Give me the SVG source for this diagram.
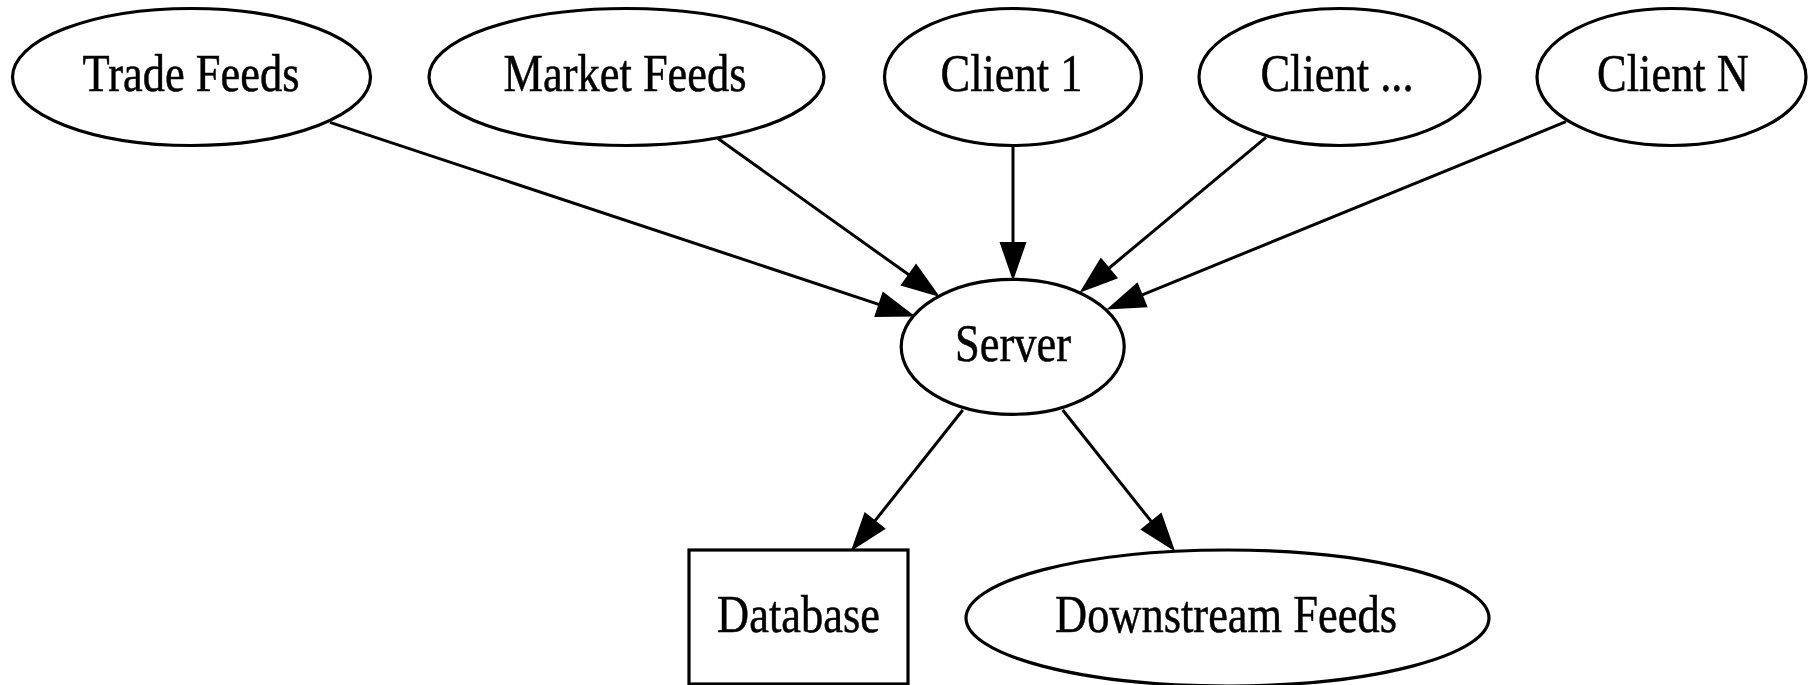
<svg xmlns="http://www.w3.org/2000/svg" width="1808" height="685" viewBox="0 0 1808 685">
  <style>
    .shape { fill: #ffffff; stroke: #000000; stroke-width: 3.2; }
    .edge { fill: none; stroke: #000000; stroke-width: 3; marker-end: url(#arrow); }
    .label { font-family: "Liberation Serif", "Times New Roman", serif; font-size: 52px; fill: #000000; stroke: #000000; stroke-width: 0.5; text-anchor: middle; }
  </style>
  <defs>
    <marker id="arrow" markerUnits="userSpaceOnUse" markerWidth="39" markerHeight="27" refX="5" refY="13.5" orient="auto" overflow="visible">
      <path d="M0,0 L39,13.5 L0,27 Z" fill="#000000"/>
    </marker>
  </defs>
  <rect width="1808" height="685" fill="#ffffff"/>

  <!-- connectors -->
  <g id="edges">
    <line class="edge" x1="330" y1="122.3" x2="883.2" y2="305.8"/>
    <line class="edge" x1="717.6" y1="138.3" x2="912.3" y2="277.3"/>
    <line class="edge" x1="1013" y1="145.7" x2="1013" y2="247"/>
    <line class="edge" x1="1266" y1="137.3" x2="1105.6" y2="271"/>
    <line class="edge" x1="1565.9" y1="121.7" x2="1138" y2="296.6"/>
    <line class="edge" x1="962.8" y1="410" x2="872.1" y2="524.4"/>
    <line class="edge" x1="1062.7" y1="410" x2="1154" y2="524.9"/>
  </g>

  <!-- sources -->
  <g id="trade-feeds">
    <ellipse class="shape" cx="191.5" cy="77" rx="179" ry="68.5"/>
    <text class="label" transform="translate(191 91) scale(0.855 1)">Trade Feeds</text>
  </g>
  <g id="market-feeds">
    <ellipse class="shape" cx="626.5" cy="77" rx="197.5" ry="68.5"/>
    <text class="label" transform="translate(625 91) scale(0.855 1)">Market Feeds</text>
  </g>
  <g id="client-1">
    <ellipse class="shape" cx="1013" cy="77" rx="128.5" ry="68.5"/>
    <text class="label" transform="translate(1011.5 91) scale(0.855 1)">Client 1</text>
  </g>
  <g id="client-etc">
    <ellipse class="shape" cx="1339.5" cy="77" rx="140.5" ry="68.5"/>
    <text class="label" transform="translate(1337 91) scale(0.855 1)">Client ...</text>
  </g>
  <g id="client-n">
    <ellipse class="shape" cx="1671.5" cy="77" rx="134.5" ry="68.5"/>
    <text class="label" transform="translate(1673 91) scale(0.855 1)">Client N</text>
  </g>

  <!-- hub -->
  <g id="server">
    <ellipse class="shape" cx="1012.7" cy="346.8" rx="111.5" ry="67.5"/>
    <text class="label" transform="translate(1013 361) scale(0.855 1)">Server</text>
  </g>

  <!-- sinks -->
  <g id="database">
    <rect class="shape" x="689" y="550" width="219" height="134"/>
    <text class="label" transform="translate(798.5 631.5) scale(0.855 1)">Database</text>
  </g>
  <g id="downstream-feeds">
    <ellipse class="shape" cx="1227.5" cy="618" rx="261.5" ry="68"/>
    <text class="label" transform="translate(1226 631.5) scale(0.855 1)">Downstream Feeds</text>
  </g>
</svg>
